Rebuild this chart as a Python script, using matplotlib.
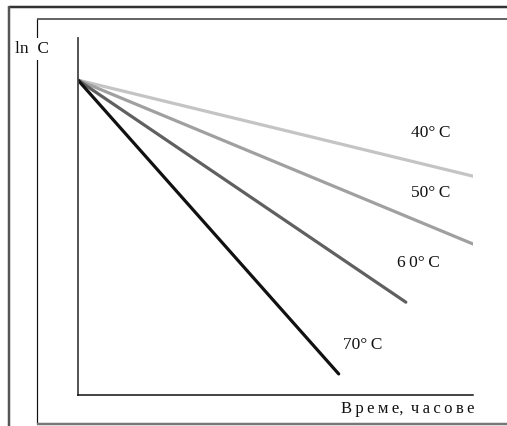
import matplotlib.pyplot as plt
from matplotlib.lines import Line2D

plt.rcParams['font.family'] = ['Liberation Serif', 'DejaVu Serif']

# ln C against time for four temperatures, all from the same starting point
temps = ['40°\u2009C', '50°\u2009C', '6\u20090°\u2009C', '70°\u2009C']
t_end = [10.0, 10.0, 8.3, 6.6]
lnc_start = 8.82
lnc_end = [6.13, 4.23, 2.6, 0.59]
colors = ['#c4c4c4', '#a0a0a0', '#606060', '#111111']
label_pos = [(8.43, 7.35), (8.43, 5.65), (8.08, 3.7), (6.71, 1.4)]

W, H = 507, 426
fig = plt.figure(figsize=(W / 100, H / 100), dpi=100)


def px(x, y):
    return x / W, 1 - y / H


def frame_line(x0, y0, x1, y1, color, lw):
    a, b = px(x0, y0)
    c, d = px(x1, y1)
    fig.add_artist(Line2D([a, c], [b, d], transform=fig.transFigure,
                          color=color, lw=lw * 0.72, solid_capstyle='butt'))


# double frame round the chart
frame_line(9, 7, W, 7, '#333333', 2.5)
frame_line(9, 6, 9, H, '#555555', 2.5)
frame_line(37, 19, W, 19, '#666666', 2)
frame_line(37, 19, 37, 424, '#111111', 1.2)
frame_line(37, 424, W, 424, '#777777', 2.5)

ax = fig.add_axes([78 / W, 31 / H, 395 / W, 357 / H])
ax.set_xlim(0, 10)
ax.set_ylim(0, 10)
for s in ['top', 'right']:
    ax.spines[s].set_visible(False)
ax.spines['left'].set_color('#444444')
ax.spines['bottom'].set_color('#111111')
ax.spines['left'].set_linewidth(1.3)
ax.spines['bottom'].set_linewidth(1.1)
ax.set_xticks([])
ax.set_yticks([])

for name, te, le, c, (lx, ly) in zip(temps, t_end, lnc_end, colors, label_pos):
    ax.plot([0, te], [lnc_start, le], color=c, lw=2.3, solid_capstyle='round')
    ax.text(lx, ly, name, fontsize=12.5, color='#111111', va='center', ha='left')

ax.text(10.05, -0.4, 'В\u2009р\u2009е\u2009м\u2009е,\u2009 ч\u2009а\u2009с\u2009о\u2009в\u2009е',
        fontsize=12, color='#111111', va='center', ha='right')

fx, fy = px(15, 49)
fig.text(fx, fy, 'ln  C', fontsize=12.5, color='#111111', va='center', ha='left',
         bbox=dict(facecolor='white', edgecolor='none', pad=2))

fig.savefig('out.png', dpi=100, facecolor='white')
